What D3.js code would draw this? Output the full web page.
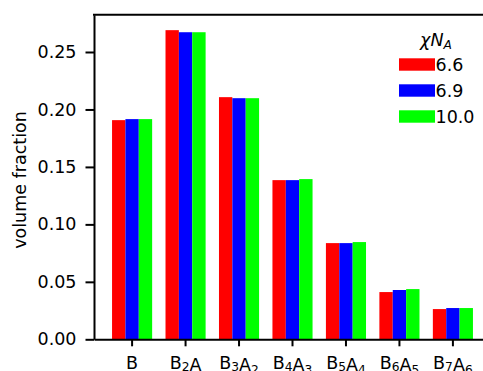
<!DOCTYPE html>
<html>
<head>
<meta charset="utf-8">
<script src="https://cdn.jsdelivr.net/npm/d3@7"></script>
<style>
	body { margin: 0; background: #fff; }
	text { font-family: "DejaVu Sans", sans-serif; }
</style>
</head>
<body>
<div id="chart"></div>
<script>
// categories, "_" marks a one-character subscript
var categories = ["B", "B_2A", "B_3A_2", "B_4A_3", "B_5A_4", "B_6A_5", "B_7A_6"];
var seriesNames = ["6.6", "6.9", "10.0"];
var seriesColors = ["#ff0000", "#0000ff", "#00ff00"];

// volume fraction per chi N_A
var values66 = [0.1907, 0.2690, 0.2107, 0.1385, 0.0837, 0.0411, 0.0263];
var values69 = [0.1916, 0.2672, 0.2098, 0.1385, 0.0837, 0.0429, 0.0272];
var values100 = [0.1916, 0.2672, 0.2098, 0.1394, 0.0846, 0.0437, 0.0272];
var yTicks = [0, 0.05, 0.10, 0.15, 0.20, 0.25];

var series = [values66, values69, values100];

var width = 483, height = 371;
var plotLeft = 94, plotTop = 14.7, plotBottom = 339.3, plotRight = 491;
var fontSize = 17.5;

var svg = d3.select("#chart").append("svg")
	.attr("width", width)
	.attr("height", height);

var ymax = d3.max(series, function(s) { return d3.max(s); }) * 1.05;

var y = d3.scaleLinear()
	.domain([0, ymax])
	.range([plotBottom, plotTop]);

// group positions, like matplotlib bars of width 0.25 with 5% margins
var x0 = d3.scaleBand()
	.domain(categories)
	.range([plotLeft, plotRight])
	.paddingInner(0.25)
	.paddingOuter(0.3375);

var x1 = d3.scaleBand()
	.domain(d3.range(series.length))
	.range([0, x0.bandwidth()]);

// bars
series.forEach(function(vals, si) {
	svg.append("g")
		.selectAll("rect")
		.data(vals)
		.enter().append("rect")
		.attr("x", function(d, i) { return x0(categories[i]) + x1(si); })
		.attr("y", function(d) { return y(d); })
		.attr("width", x1.bandwidth())
		.attr("height", function(d) { return y(0) - y(d); })
		.attr("fill", seriesColors[si]);
});

// y axis
var yAxis = svg.append("g")
	.attr("transform", "translate(" + plotLeft + ",0)")
	.call(d3.axisLeft(y)
		.tickValues(yTicks)
		.tickFormat(d3.format(".2f"))
		.tickSize(8.5)
		.tickSizeOuter(0)
		.tickPadding(9));

// x axis
var xAxis = svg.append("g")
	.attr("transform", "translate(0," + plotBottom + ")")
	.call(d3.axisBottom(x0)
		.tickSize(7)
		.tickSizeOuter(0)
		.tickPadding(10));

[yAxis, xAxis].forEach(function(ax) {
	ax.select(".domain").attr("stroke", "#000").attr("stroke-width", 2);
	ax.selectAll(".tick line").attr("stroke", "#000").attr("stroke-width", 2);
	ax.selectAll(".tick text")
		.attr("fill", "#000")
		.style("font-size", fontSize + "px")
		.style("font-family", "DejaVu Sans");
});

// rebuild x labels with subscripts
xAxis.selectAll(".tick text").each(function(d) {
	var t = d3.select(this).text("");
	var parts = d.split(/(_.)/);
	parts.forEach(function(p) {
		if (!p) return;
		if (p[0] === "_") {
			t.append("tspan").attr("dy", "0.22em").style("font-size", "0.7em").text(p[1]);
			t.append("tspan").attr("dy", "-0.154em").text("");
		} else {
			t.append("tspan").text(p);
		}
	});
});

// top spine (right spine falls outside the picture)
svg.append("line")
	.attr("x1", plotLeft - 1).attr("x2", width)
	.attr("y1", plotTop).attr("y2", plotTop)
	.attr("stroke", "#000")
	.attr("stroke-width", 2);

// y label
svg.append("text")
	.attr("transform", "translate(25.5," + ((plotTop + plotBottom) / 2 + 3) + ") rotate(-90)")
	.attr("text-anchor", "middle")
	.style("font-size", fontSize + "px")
	.text("volume fraction");

// legend
var legX = 399, legY = 58.3, rowH = 26, boxW = 36, boxH = 12.4;

var title = svg.append("text")
	.attr("x", 436)
	.attr("y", 46)
	.attr("text-anchor", "middle")
	.style("font-size", fontSize + "px")
	.style("font-style", "italic");
title.append("tspan").text("χN");
title.append("tspan").attr("dy", "0.22em").style("font-size", "0.7em").text("A");

seriesNames.forEach(function(name, i) {
	svg.append("rect")
		.attr("x", legX)
		.attr("y", legY + i * rowH)
		.attr("width", boxW)
		.attr("height", boxH)
		.attr("fill", seriesColors[i]);

	svg.append("text")
		.attr("x", legX + boxW + 0.5)
		.attr("y", legY + i * rowH + boxH + 0.2)
		.style("font-size", fontSize + "px")
		.text(name);
});
</script>
</body>
</html>
